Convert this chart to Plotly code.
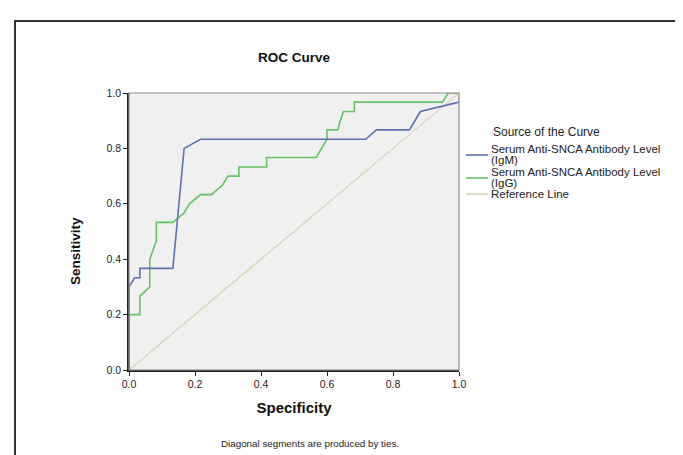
import plotly.graph_objects as go

# ---- data ----
igm_spec = [0.0, 0.0, 0.017, 0.033, 0.033, 0.133, 0.167, 0.217, 0.717, 0.75, 0.85, 0.883, 1.0]
igm_sens = [0.0, 0.300, 0.333, 0.333, 0.367, 0.367, 0.800, 0.833, 0.833, 0.867, 0.867, 0.933, 0.967]

igg_spec = [0.0, 0.0, 0.033, 0.033, 0.063, 0.063, 0.083, 0.083, 0.133, 0.15, 0.167, 0.183,
            0.217, 0.25, 0.267, 0.283, 0.30, 0.333, 0.333, 0.417, 0.417, 0.567, 0.60, 0.60,
            0.633, 0.64, 0.65, 0.683, 0.683, 0.95, 0.967, 1.0]
igg_sens = [0.0, 0.200, 0.200, 0.267, 0.300, 0.400, 0.467, 0.533, 0.533, 0.550, 0.567, 0.600,
            0.633, 0.633, 0.650, 0.667, 0.700, 0.700, 0.733, 0.733, 0.767, 0.767, 0.833, 0.867,
            0.867, 0.900, 0.933, 0.933, 0.967, 0.967, 1.0, 1.0]

ref_x = [0.0, 1.0]
ref_y = [0.0, 1.0]

tick_vals = [0.0, 0.2, 0.4, 0.6, 0.8, 1.0]
tick_text = ["0.0", "0.2", "0.4", "0.6", "0.8", "1.0"]

series_names = ["Serum Anti-SNCA Antibody Level (IgM)",
                "Serum Anti-SNCA Antibody Level (IgG)",
                "Reference Line"]
legend_lines = [["Serum Anti-SNCA Antibody Level", "(IgM)"],
                ["Serum Anti-SNCA Antibody Level", "(IgG)"],
                ["Reference Line"]]
series_colors = ["#5f70b5", "#62c462", "#d9d2b4"]

FONT = "Arial, Liberation Sans, sans-serif"

fig = go.Figure()
fig.add_trace(go.Scatter(x=ref_x, y=ref_y, mode="lines", name=series_names[2],
                         line=dict(color=series_colors[2], width=1.2), showlegend=False))
fig.add_trace(go.Scatter(x=igg_spec, y=igg_sens, mode="lines", name=series_names[1],
                         line=dict(color=series_colors[1], width=1.6), showlegend=False))
fig.add_trace(go.Scatter(x=igm_spec, y=igm_sens, mode="lines", name=series_names[0],
                         line=dict(color=series_colors[0], width=1.6), showlegend=False))

# plot-area geometry (pixels) -> paper conversion helpers
L, R, T, B = 121, 451, 85, 362
def px(x):
    return (x - L) / (R - L)
def py(y):
    return (B - y) / (B - T)

shapes = [
    # outer frame
    dict(type="rect", xref="paper", yref="paper", x0=px(7), x1=px(700), y0=py(470), y1=py(13),
         line=dict(color="#333333", width=2), layer="above"),
    # plot-area border (top/right lighter)
    dict(type="rect", xref="paper", yref="paper", x0=0, x1=1, y0=0, y1=1,
         line=dict(color="#8a8a8a", width=1.2), layer="above"),
]

annotations = [
    dict(text="Diagonal segments are produced by ties.", xref="paper", yref="paper",
         x=px(302), y=py(435), showarrow=False, font=dict(family=FONT, size=9.8, color="#222"),
         xanchor="center", yanchor="middle"),
    dict(text="Source of the Curve", xref="paper", yref="paper",
         x=px(538), y=py(124), showarrow=False, font=dict(family=FONT, size=12, color="#222"),
         xanchor="center", yanchor="middle"),
    dict(text="<b>Sensitivity</b>", xref="paper", yref="paper", textangle=-90,
         x=px(67), y=py(243), showarrow=False, font=dict(family=FONT, size=13.5, color="#111"),
         xanchor="center", yanchor="middle"),
]

# manual legend
leg_line_y = [147, 170, 186]
leg_text_y = [[141, 152], [164, 175], [186]]
for lines, col, ly, tys in zip(legend_lines, series_colors, leg_line_y, leg_text_y):
    shapes.append(dict(type="line", xref="paper", yref="paper", x0=px(458), x1=px(480),
                       y0=py(ly), y1=py(ly), line=dict(color=col, width=1.6)))
    for txt, ty in zip(lines, tys):
        annotations.append(dict(text=txt, xref="paper", yref="paper", x=px(481), y=py(ty),
                                showarrow=False, align="left", xanchor="left", yanchor="middle",
                                font=dict(family=FONT, size=11.5, color="#222")))

fig.update_layout(
    width=683, height=455,
    margin=dict(l=L, r=683 - R, t=T, b=455 - B, pad=0),
    paper_bgcolor="white", plot_bgcolor="#f0f0f0",
    title=dict(text="<b>ROC Curve</b>", x=px(286), xref="paper", xanchor="center",
               y=1 - 49 / 455, yref="container", yanchor="middle",
               font=dict(family=FONT, size=13.5, color="#111")),
    shapes=shapes, annotations=annotations, showlegend=False,
    font=dict(family=FONT, color="#222"),
)
fig.update_xaxes(range=[0, 1], tickvals=tick_vals, ticktext=tick_text, showgrid=False,
                 zeroline=False, showline=True, linecolor="#222", linewidth=1.5,
                 ticks="outside", ticklen=4, tickcolor="#222", tickfont=dict(size=10.5, family=FONT),
                 title=dict(text="<b>Specificity</b>", font=dict(size=15, family=FONT, color="#111"),
                            standoff=13))
fig.update_yaxes(range=[0, 1], tickvals=tick_vals, ticktext=tick_text, showgrid=False,
                 zeroline=False, showline=True, linecolor="#222", linewidth=1.5,
                 ticks="outside", ticklen=4, tickcolor="#222", tickfont=dict(size=10.5, family=FONT))

fig.write_html("out.html")
